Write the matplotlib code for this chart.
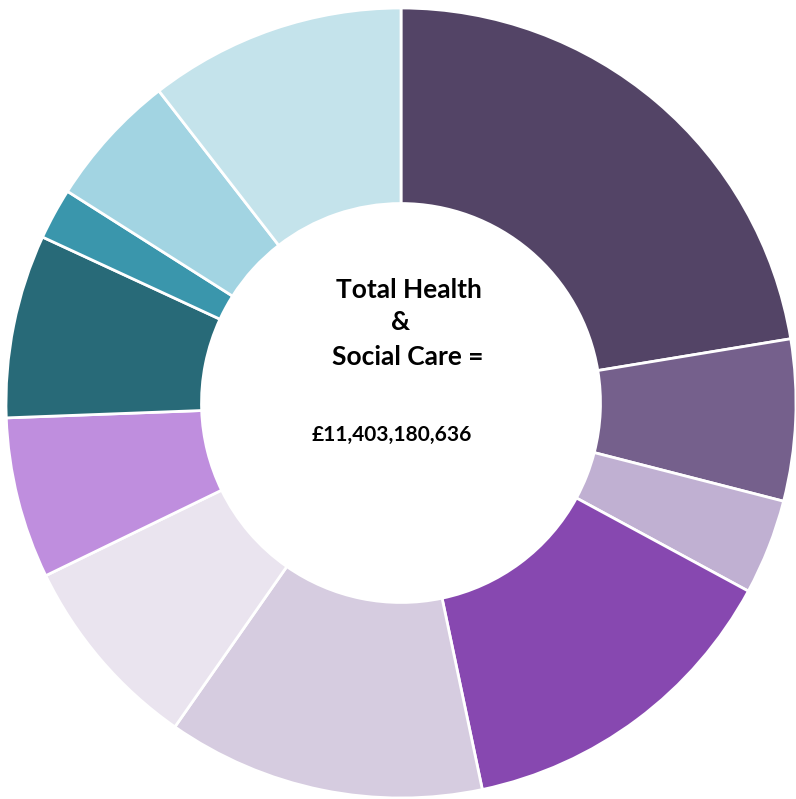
import matplotlib.pyplot as plt

# share of spend per slice, clockwise from 12 o'clock
shares = [22.4, 6.6, 3.9, 13.8, 13.0, 8.1, 6.6, 7.5, 2.1, 5.5, 10.5]
colours = ["#534466", "#75608C", "#C0B0D2", "#8748B0", "#D6CCE0", "#EAE4EF",
           "#BF8EDE", "#286A78", "#3A96AC", "#A2D4E2", "#C4E3EB"]
title_lines = ["Total Health", "&", "Social Care ="]
total_text = "£11,403,180,636"

fig = plt.figure(figsize=(7.96, 7.99), dpi=100, facecolor="white")
# square axes, 790 px each way, centred on the donut
ax = fig.add_axes([6/796, 1/799, 790/796, 790/799])
ax.pie(shares, colors=colours, startangle=90, counterclock=False,
       radius=1.0, wedgeprops=dict(width=0.495, edgecolor="white", linewidth=2))
ax.set_xlim(-1, 1)
ax.set_ylim(-1, 1)
ax.axis("off")

font = ["Lato", "DejaVu Sans"]
ax.text(0.02, 0.286, title_lines[0], ha="center", va="center", fontsize=19,
        fontweight="bold", family=font)
ax.text(0.0, 0.205, title_lines[1], ha="center", va="center", fontsize=19,
        fontweight="bold", family=font)
ax.text(0.018, 0.116, title_lines[2], ha="center", va="center", fontsize=19,
        fontweight="bold", family=font)
ax.text(-0.023, -0.081, total_text, ha="center", va="center", fontsize=15,
        fontweight="bold", family=font)

fig.savefig("out.png", dpi=100, facecolor="white")
